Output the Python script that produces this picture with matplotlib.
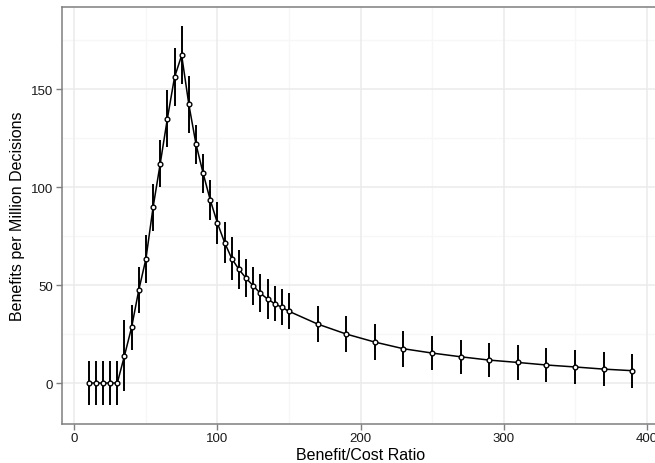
import matplotlib
matplotlib.use("Agg")
import matplotlib.pyplot as plt
import numpy as np

plt.rcParams['font.family'] = ['Liberation Sans', 'DejaVu Sans']

ratio = [10, 15, 20, 25, 30, 35, 40, 45, 50, 55, 60, 65, 70, 75, 80, 85, 90, 95,
         100, 105, 110, 115, 120, 125, 130, 135, 140, 145, 150,
         170, 190, 210, 230, 250, 270, 290, 310, 330, 350, 370, 390]
benefit = [0, 0, 0, 0, 0, 13.9, 28.4, 47.4, 63.3, 89.6, 111.9, 134.9, 156.0, 167.2,
           142.2, 121.9, 107.0, 93.3, 81.6, 71.7, 63.5, 58.0, 53.5, 49.6, 45.8,
           42.9, 40.5, 38.6, 36.6, 30.1, 25.0, 20.9, 17.5, 15.3, 13.4, 11.7,
           10.5, 9.2, 8.2, 7.1, 6.3]
err = [11.4, 11.4, 11.4, 11.4, 11.4, 18.2, 11.6, 11.6, 12.2, 12.1, 12.1, 14.6,
       14.8, 14.8, 14.7, 10.0, 10.0, 10.1, 10.6, 10.4, 11.1, 9.8, 9.8, 9.7, 9.7,
       10.3, 9.1, 9.2, 9.2, 9.1, 9.2, 9.2, 9.2, 8.6, 8.6, 8.7, 8.7, 8.7, 8.6,
       8.6, 8.6]

xticks = [0, 100, 200, 300, 400]
yticks = [0, 50, 100, 150]

W, H = 655, 464
fig = plt.figure(figsize=(W / 100, H / 100), dpi=100)
left, right, top, bottom = 61.5, 659.5, 8.3, 425.0
ax = fig.add_axes([left / W, 1 - bottom / H, (right - left) / W, (bottom - top) / H])

x = np.array(ratio)
y = np.array(benefit)
e = np.array(err)

ax.set_xlim(-9, 409)
ax.set_ylim(-20.9, 191.7)

# grid
for v in [50, 150, 250, 350]:
    ax.axvline(v, color='#f7f7f7', lw=1.0, zorder=0)
for v in [25, 75, 125, 175]:
    ax.axhline(v, color='#f7f7f7', lw=1.0, zorder=0)
for v in xticks:
    ax.axvline(v, color='#ebebeb', lw=1.1, zorder=0)
for v in yticks:
    ax.axhline(v, color='#ebebeb', lw=1.1, zorder=0)

ax.vlines(x, y - e, y + e, color='black', lw=1.4, zorder=2)
ax.plot(x, y, color='black', lw=1.1, zorder=3)
ax.plot(x, y, 'o', ms=3.4, mfc='white', mec='black', mew=1.0, zorder=4, ls='none')

ax.set_xticks(xticks)
ax.set_yticks(yticks)
ax.tick_params(axis='both', colors='#7f7f7f', length=4, width=1, labelsize=9.5,
               labelcolor='#1a1a1a', pad=2)
for s in ax.spines.values():
    s.set_color('#7f7f7f')
    s.set_linewidth(1.1)

ax.set_xlabel('Benefit/Cost Ratio', fontsize=11.5, color='black', labelpad=2)
ax.set_ylabel('Benefits per Million Decisions', fontsize=11.5, color='black', labelpad=4)

fig.savefig('out.png', dpi=100)
